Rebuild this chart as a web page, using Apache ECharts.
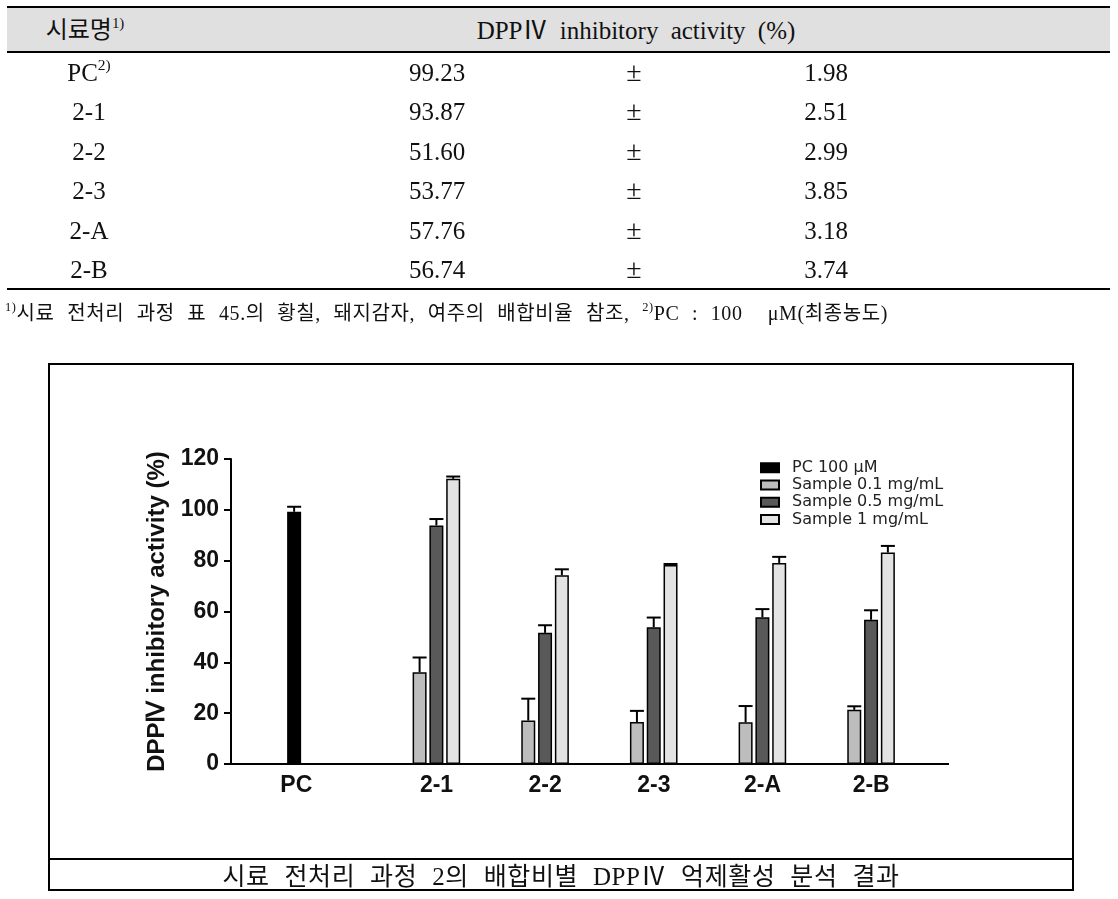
<!DOCTYPE html>
<html><head><meta charset="utf-8">
<script src="https://cdn.jsdelivr.net/npm/echarts@6/dist/echarts.min.js"></script>
<style>
html,body{margin:0;padding:0;background:#fff;}
body{width:1118px;height:899px;position:relative;overflow:hidden;font-family:"Liberation Serif","Noto Sans CJK KR",serif;color:#111;}
.rule{position:absolute;background:#000;height:2px;left:7px;width:1103px;}
.cell{position:absolute;white-space:nowrap;transform:translate(-50%,-50%);font-size:25px;line-height:1;}
sup{font-size:0.62em;vertical-align:0.7em;line-height:0;}
#chart{position:absolute;left:0;top:0;width:1118px;height:899px;}
#box{position:absolute;left:48px;top:363px;width:1022px;height:524px;border:2px solid #000;}
#capline{position:absolute;left:48px;top:858px;width:1026px;height:2px;background:#000;}
#caption{position:absolute;left:561px;top:876px;transform:translate(-50%,-50%);white-space:nowrap;font-size:25px;word-spacing:8px;letter-spacing:0.6px;line-height:1;}
#foot{position:absolute;left:5px;top:313px;transform:translateY(-50%);white-space:nowrap;font-size:20px;line-height:1;word-spacing:7px;letter-spacing:0.6px;}
</style></head><body>
<div id="chart"></div>
<div class="rule" style="top:6px"></div>
<div style="position:absolute;left:7px;top:8px;width:1103px;height:44px;background:#e0e0e0"></div>
<div class="rule" style="top:51px"></div>
<div class="cell" id="h1" style="left:85px;top:30px;font-size:24px">시료명<sup>1)</sup></div>
<div class="cell" id="h2" style="left:636px;top:30px;font-size:25px;word-spacing:6px">DPPⅣ inhibitory activity (%)</div>
<div id="rows"></div>
<div class="rule" style="top:288px"></div>
<div id="foot"><sup>1)</sup>시료 전처리 과정 표 45.의 황칠, 돼지감자, 여주의 배합비율 참조, <sup>2)</sup>PC : 100 &nbsp;μM(최종농도)</div>
<div id="box"></div>
<div id="capline"></div>
<div id="caption">시료 전처리 과정 2의 배합비별 DPPⅣ 억제활성 분석 결과</div>
<script>
// ---- data ----
const categories = ['PC', '2-1', '2-2', '2-3', '2-A', '2-B'];
const seriesNames = ['PC 100 μM', 'Sample 0.1 mg/mL', 'Sample 0.5 mg/mL', 'Sample 1 mg/mL'];
const pcMean  = [99.23, null, null, null, null, null];
const pcErr   = [1.98, null, null, null, null, null];
const s01Mean = [null, 36.1, 17.1, 16.5, 16.4, 21.3];
const s01Err  = [null, 5.8, 8.6, 4.4, 6.4, 1.4];
const s05Mean = [null, 93.87, 51.60, 53.77, 57.76, 56.74];
const s05Err  = [null, 2.51, 2.99, 3.85, 3.18, 3.74];
const s1Mean  = [null, 112.2, 74.3, 78.3, 79.1, 83.2];
const s1Err   = [null, 0.9, 2.3, 0.4, 2.4, 2.6];
const yMin = 0, yMax = 120, yStep = 20;
const tableSamples = ['PC', '2-1', '2-2', '2-3', '2-A', '2-B'];
const tableMeans = ['99.23', '93.87', '51.60', '53.77', '57.76', '56.74'];
const tableSDs   = ['1.98', '2.51', '2.99', '3.85', '3.18', '3.74'];

// ---- table rows ----
const rows = document.getElementById('rows');
tableSamples.forEach((s, i) => {
  const y = 72 + i * 39.4;
  const lab = s === 'PC' ? 'PC<sup>2)</sup>' : s;
  rows.insertAdjacentHTML('beforeend',
    `<div class="cell" style="left:89px;top:${y}px">${lab}</div>` +
    `<div class="cell" style="left:437px;top:${y}px">${tableMeans[i]}</div>` +
    `<div class="cell" style="left:634px;top:${y}px;font-size:28px">±</div>` +
    `<div class="cell" style="left:826px;top:${y}px">${tableSDs[i]}</div>`);
});

// ---- chart ----
const BW = 14, GAP = 2.8;
const nSlots = 4;
function slotOffset(k) {
  const total = nSlots * BW + (nSlots - 1) * GAP;
  return -total / 2 + BW / 2 + k * (BW + GAP);
}
const colors = ['#000000', '#bdbdbd', '#595959', '#e3e3e3'];
const means = [pcMean, s01Mean, s05Mean, s1Mean];
const errs = [pcErr, s01Err, s05Err, s1Err];

const barSeries = means.map((m, k) => ({
  name: seriesNames[k], type: 'bar', data: m, barWidth: BW, barGap: (GAP / BW * 100) + '%',
  itemStyle: { color: colors[k], borderColor: '#000', borderWidth: 1.5 },
  animation: false, z: 2
}));
const errSeries = means.map((m, k) => ({
  name: 'err' + k, type: 'custom', z: 5, animation: false,
  encode: { x: 0, y: 1 },
  data: m.map((v, i) => v == null ? null : [i, v, errs[k][i]]).filter(Boolean),
  renderItem(params, api) {
    const i = api.value(0), v = api.value(1), e = api.value(2);
    const b = api.coord([i, v]), t = api.coord([i, v + e]);
    const x = b[0] + slotOffset(k);
    return { type: 'group', children: [
      { type: 'line', shape: { x1: x, y1: b[1], x2: x, y2: t[1] }, style: { stroke: '#000', lineWidth: 2 } },
      { type: 'line', shape: { x1: x - BW / 2, y1: t[1], x2: x + BW / 2, y2: t[1] }, style: { stroke: '#000', lineWidth: 2 } }
    ] };
  }
}));

const chart = echarts.init(document.getElementById('chart'));
const lblFont = { fontFamily: 'Liberation Sans', fontWeight: 'bold', fontSize: 23, color: '#111' };
chart.setOption({
  animation: false,
  grid: { left: 265, right: 201, top: 459, bottom: 135, containLabel: false },
  legend: {
    data: seriesNames, orient: 'vertical', left: 760, top: 459, padding: 0,
    itemWidth: 18, itemHeight: 9, itemGap: 0, icon: 'rect',
    textStyle: { fontFamily: 'DejaVu Sans', fontSize: 16, color: '#222', lineHeight: 17.3, padding: [0, 0, 0, 8] }
  },
  xAxis: {
    type: 'category', data: categories,
    axisLine: { show: false }, axisTick: { show: false },
    axisLabel: {
      margin: 10, ...lblFont,
      formatter: (v, i) => i === 0 ? '{pc|' + v + '}' : '{s|' + v + '}',
      rich: { pc: { ...lblFont, padding: [0, 46, 0, 0] }, s: { ...lblFont, padding: [0, 0, 0, 17] } }
    }
  },
  yAxis: {
    type: 'value', min: yMin, max: yMax, interval: yStep, offset: 34,
    axisLine: { show: true, lineStyle: { color: '#000', width: 2 } },
    axisTick: { show: true, length: 7, lineStyle: { color: '#000', width: 2 } },
    axisLabel: { margin: 12, ...lblFont },
    splitLine: { show: false },
    name: 'DPPⅣ inhibitory activity (%)', nameLocation: 'middle', nameGap: 60,
    nameTextStyle: { fontFamily: 'Liberation Sans', fontWeight: 'bold', fontSize: 24, color: '#111' }
  },
  series: [...barSeries, ...errSeries]
});
const y0 = chart.convertToPixel({ yAxisIndex: 0 }, 0);
const gl = 265 - 34;
chart.setOption({
  graphic: [{ type: 'line', z: 10, shape: { x1: gl, y1: y0, x2: 949, y2: y0 }, style: { stroke: '#000', lineWidth: 2 } }]
});
</script>
</body></html>
